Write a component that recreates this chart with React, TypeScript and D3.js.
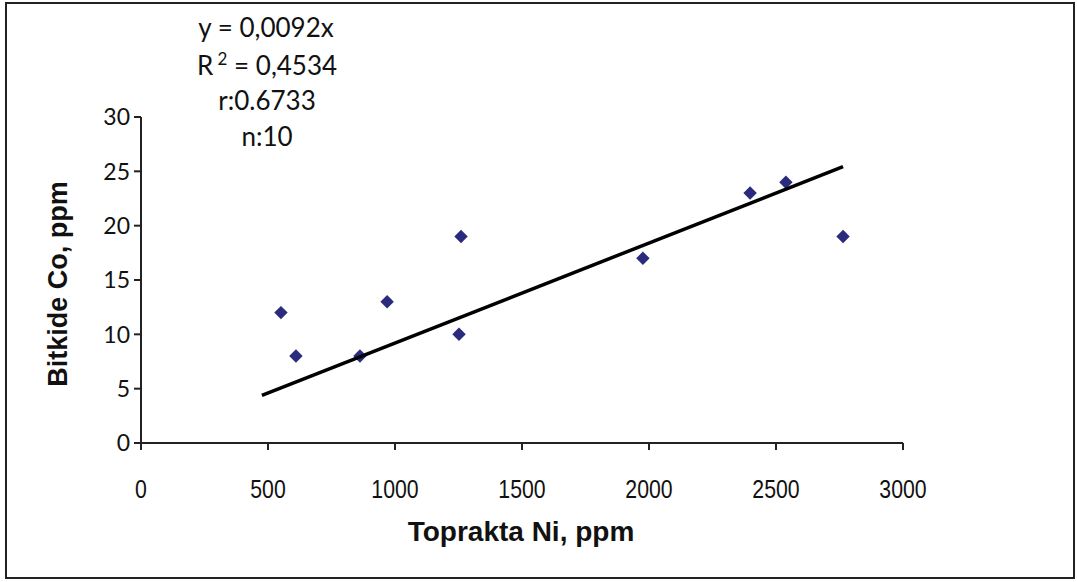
import * as d3 from "d3";

const W = 1077;
const H = 582;
const margin = { top: 117, right: 174, bottom: 139, left: 141 };

// soil Ni (ppm) vs plant Co (ppm)
const niValues = [551, 610, 862, 969, 1252, 1260, 1976, 2398, 2539, 2764];
const coValues = [12, 8, 8, 13, 10, 19, 17, 23, 24, 19];
const xTicks = [0, 500, 1000, 1500, 2000, 2500, 3000];
const yTicks = [0, 5, 10, 15, 20, 25, 30];
const slope = 0.0092;
const trendRange = [476, 2764];
const notes = ["r:0.6733", "n:10"];

const tickFont = "Lato, 'Open Sans', sans-serif";
const arial = "'Liberation Sans', Arial, sans-serif";

export default function App() {
  const x = d3.scaleLinear().domain([0, 3000]).range([margin.left, W - margin.right]);
  const y = d3.scaleLinear().domain([0, 30]).range([H - margin.bottom, margin.top]);
  const diamond = d3.symbol().type(d3.symbolDiamond2).size(115)();
  const trend = d3.line<number>()
    .x(d => x(d))
    .y(d => y(slope * d))(trendRange);

  return (
    <svg width={W} height={H} style={{ position: "absolute", left: 0, top: 0, background: "#fff" }}>
      <rect x={6} y={3} width={1068} height={575} fill="none" stroke="#222" strokeWidth={2} />

      {/* y axis */}
      <line x1={x(0)} x2={x(0)} y1={y(0)} y2={y(30)} stroke="#222" strokeWidth={2} />
      {yTicks.map(t => (
        <g key={"y" + t}>
          <line x1={x(0) - 7} x2={x(0)} y1={y(t)} y2={y(t)} stroke="#222" strokeWidth={2} />
          <text x={x(0) - 11} y={y(t)} dy="0.36em" textAnchor="end" fontFamily={tickFont} fontSize={23} fill="#111">{t}</text>
        </g>
      ))}

      {/* x axis */}
      <line x1={x(0)} x2={x(3000)} y1={y(0)} y2={y(0)} stroke="#222" strokeWidth={2} />
      {xTicks.map(t => (
        <g key={"x" + t}>
          <line x1={x(t)} x2={x(t)} y1={y(0)} y2={y(0) + 7} stroke="#222" strokeWidth={2} />
          <text transform={`translate(${x(t)}, ${y(0) + 55}) scale(0.85, 1)`} textAnchor="middle" fontFamily={arial} fontSize={25} fill="#111">{t}</text>
        </g>
      ))}

      <text x={521} y={541} textAnchor="middle" fontFamily={arial} fontWeight="bold" fontSize={28} fill="#111">Toprakta Ni, ppm</text>
      <text transform={`translate(67, 284) rotate(-90)`} textAnchor="middle" fontFamily={arial} fontWeight="bold" fontSize={27} fill="#111">Bitkide Co, ppm</text>

      {/* points */}
      {niValues.map((v, i) => (
        <path key={i} d={diamond} transform={`translate(${x(v)}, ${y(coValues[i])})`} fill="#2b2b7e" />
      ))}

      <path d={trend || ""} fill="none" stroke="#000" strokeWidth={3.5} />

      {/* equation box */}
      <g fontFamily={tickFont} fontSize={26} fill="#111" textAnchor="middle">
        <text x={266} y={37} xmlSpace="preserve">y = 0,0092x</text>
        <text x={267} y={75} xmlSpace="preserve">
          <tspan>R</tspan>
          <tspan dy={-10} fontSize={17}> 2</tspan>
          <tspan dy={10}> = 0,4534</tspan>
        </text>
        <text x={267} y={110}>{notes[0]}</text>
        <text x={267} y={146}>{notes[1]}</text>
      </g>
    </svg>
  );
}
